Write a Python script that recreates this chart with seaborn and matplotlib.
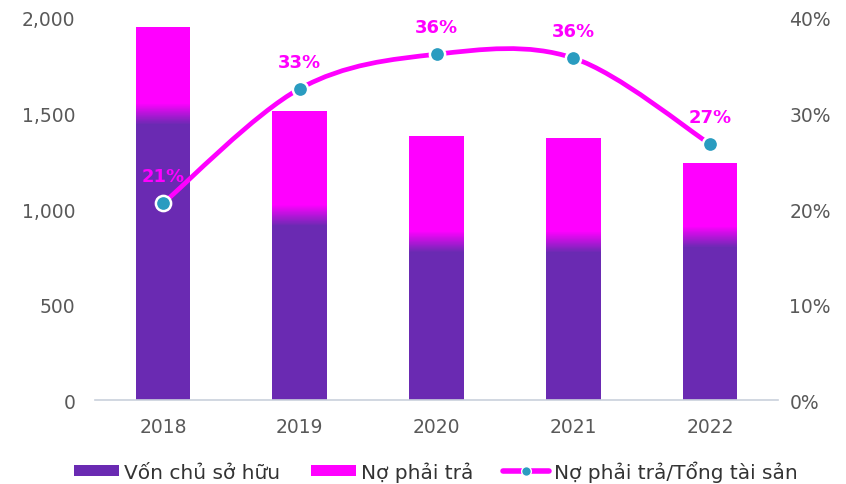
import matplotlib
matplotlib.use("Agg")
import matplotlib.pyplot as plt
import seaborn as sns
import pandas as pd
import numpy as np
from matplotlib.path import Path
from matplotlib.patches import PathPatch, Patch
from matplotlib.lines import Line2D
from matplotlib.colors import LinearSegmentedColormap

# Dữ liệu
years = ["2018", "2019", "2020", "2021", "2022"]
von_chu_so_huu = [1551, 1020, 882, 881, 908]
no_phai_tra = [402, 493, 500, 491, 333]
ty_le_no = [0.206, 0.326, 0.362, 0.358, 0.268]
left_ticks = [0, 500, 1000, 1500, 2000]
right_ticks = [0, 0.1, 0.2, 0.3, 0.4]

PURPLE = "#6A2AB2"
MAGENTA = "#FF00FF"
TEAL = "#2A9CC0"
GREY = "#595959"

sns.set_theme(style="white")
plt.rcParams["font.family"] = ["DejaVu Sans"]

df = pd.DataFrame({"Year": years, "Equity": von_chu_so_huu, "Debt": no_phai_tra})
df["Total"] = df["Equity"] + df["Debt"]

fig = plt.figure(figsize=(8.46, 4.85), dpi=100)
ax = fig.add_axes([0.112, 0.173, 0.808, 0.788])
bw = 0.4

sns.barplot(data=df, x="Year", y="Total", color=MAGENTA, width=bw, saturation=1,
            linewidth=0, ax=ax)
n_tot = len(ax.patches)
sns.barplot(data=df, x="Year", y="Equity", color=PURPLE, width=bw, saturation=1,
            linewidth=0, ax=ax)
bars_equity = ax.patches[n_tot:]

# dải chuyển màu tím -> hồng ở phần trên của vốn chủ sở hữu
cmap = LinearSegmentedColormap.from_list("grad", [PURPLE, MAGENTA])
steps = np.linspace(0, 1, 60)
for bar, eq in zip(bars_equity, df["Equity"]):
    x0 = bar.get_x()
    xe = np.array([x0, x0 + bar.get_width()])
    ye = eq - 110 + steps * 112
    ax.pcolormesh(xe, ye, steps[:-1].reshape(-1, 1), cmap=cmap, vmin=0, vmax=1,
                  shading="flat", edgecolors="none", zorder=3)

ax.set_xlim(-0.5, 4.5)
ax.set_ylim(0, 2000)
ax.set_yticks(left_ticks)
ax.set_yticklabels([f"{v:,}" for v in left_ticks])
ax.set_xlabel("")
ax.set_ylabel("")
for s in ["top", "right", "left"]:
    ax.spines[s].set_visible(False)
ax.spines["bottom"].set_color("#C9D1DC")
ax.spines["bottom"].set_linewidth(1.2)
ax.tick_params(axis="both", colors=GREY, labelsize=13.5, length=0)
ax.tick_params(axis="x", pad=12)
ax.tick_params(axis="y", pad=14)

# trục phải: tỷ lệ nợ / tổng tài sản
ax2 = ax.twinx()
ax2.set_ylim(0, 0.4)
ax2.set_yticks(right_ticks)
ax2.set_yticklabels([f"{v:.0%}" for v in right_ticks])
ax2.tick_params(axis="y", colors=GREY, labelsize=13.5, length=0, pad=8)
for s in ax2.spines.values():
    s.set_visible(False)

# đường cong mượt (Bezier dạng Catmull-Rom)
xs = np.arange(len(years), dtype=float)
ys = np.array(ty_le_no)
verts = [(xs[0], ys[0])]
codes = [Path.MOVETO]
n = len(xs)
for i in range(n - 1):
    p0 = (xs[max(i - 1, 0)], ys[max(i - 1, 0)])
    p1 = (xs[i], ys[i])
    p2 = (xs[i + 1], ys[i + 1])
    p3 = (xs[min(i + 2, n - 1)], ys[min(i + 2, n - 1)])
    c1 = (p1[0] + (p2[0] - p0[0]) / 6, p1[1] + (p2[1] - p0[1]) / 6)
    c2 = (p2[0] - (p3[0] - p1[0]) / 6, p2[1] - (p3[1] - p1[1]) / 6)
    verts += [c1, c2, p2]
    codes += [Path.CURVE4] * 3
ax2.add_patch(PathPatch(Path(verts, codes), facecolor="none", edgecolor=MAGENTA,
                        lw=3.4, capstyle="round", zorder=4))
sns.scatterplot(x=xs, y=ys, s=120, color=TEAL, edgecolor="white", linewidth=1.8,
                zorder=5, ax=ax2)

for x, y in zip(xs, ys):
    ax2.annotate(f"{y:.0%}", (x, y), xytext=(0, 13), textcoords="offset points",
                 ha="center", va="bottom", color=MAGENTA, fontsize=13, fontweight="bold")

handles = [
    Patch(facecolor=PURPLE, edgecolor="none"),
    Patch(facecolor=MAGENTA, edgecolor="none"),
    Line2D([0], [0], color=MAGENTA, lw=4, marker="o", markersize=7,
           markerfacecolor=TEAL, markeredgecolor="white", markeredgewidth=1),
]
labels = ["Vốn chủ sở hữu", "Nợ phải trả", "Nợ phải trả/Tổng tài sản"]
fig.legend(handles, labels, loc="center", bbox_to_anchor=(0.515, 0.027), ncol=3,
           frameon=False, fontsize=14.5, handlelength=2.25, handleheight=0.5,
           handletextpad=0.25, columnspacing=1.5, labelcolor="#333333",
           borderaxespad=0)

fig.savefig("out.png", dpi=100)
